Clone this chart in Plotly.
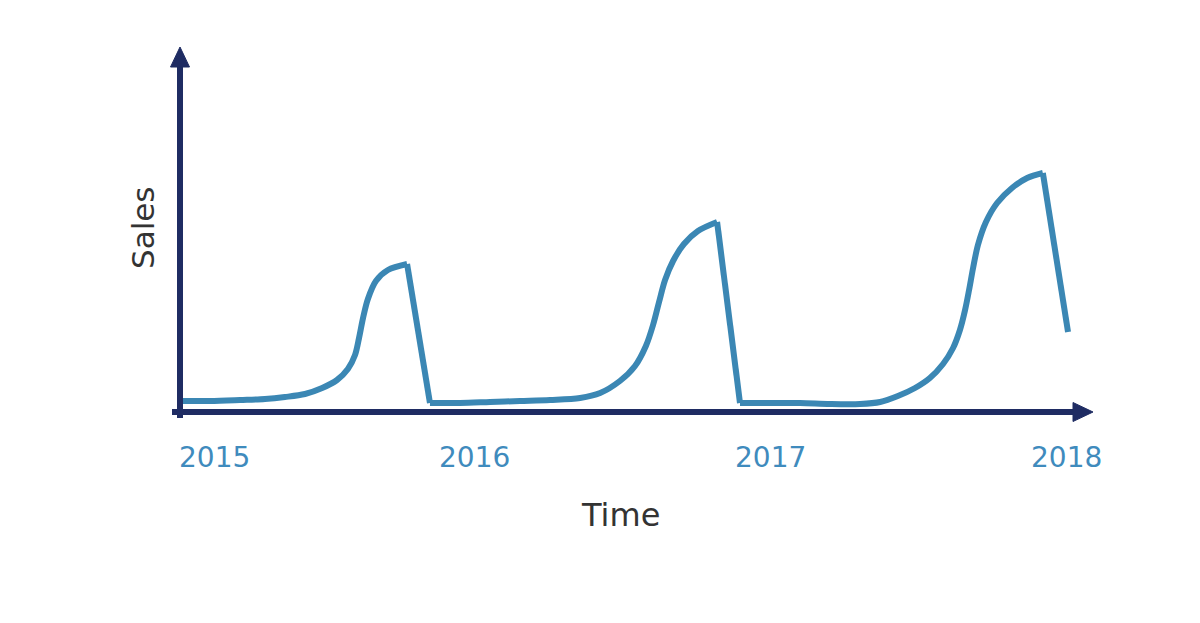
import plotly.graph_objects as go

# ---- data (time in fractional years, sales in arbitrary units) ----
cycle1_time = [2015.010, 2015.105, 2015.210, 2015.297, 2015.367, 2015.437, 2015.497,
               2015.549, 2015.587, 2015.612, 2015.626, 2015.640, 2015.657, 2015.685,
               2015.727, 2015.794]
cycle1_sales = [10, 10, 11, 12, 14, 17, 23, 31, 42, 56, 73, 93, 112, 130, 141, 147]

cycle2_time = [2015.874, 2015.979, 2016.084, 2016.189, 2016.294, 2016.399, 2016.469,
               2016.538, 2016.591, 2016.629, 2016.654, 2016.675, 2016.696, 2016.724,
               2016.762, 2016.811, 2016.878]
cycle2_sales = [8, 8, 9, 10, 11, 13, 18, 30, 45, 65, 86, 109, 131, 150, 167, 180, 189]

cycle3_time = [2016.958, 2017.063, 2017.168, 2017.273, 2017.378, 2017.448, 2017.510,
               2017.570, 2017.622, 2017.668, 2017.703, 2017.727, 2017.745, 2017.759,
               2017.773, 2017.790, 2017.818, 2017.857, 2017.909, 2017.962, 2018.017]
cycle3_sales = [8, 8, 8, 7, 7, 9, 15, 23, 33, 47, 63, 81, 101, 121, 143, 166, 189,
                208, 223, 233, 238]

end_time = [2018.105]
end_sales = [79]

year_labels = ["2015", "2016", "2017", "2018"]
year_label_pos = [2015.122, 2016.028, 2017.066, 2018.098]

LINE = "#3b87b4"
AXIS = "#1f2c63"
YEARC = "#3f8bbd"
TEXTC = "#333333"

# page offset (default body margin) and figure size
OFF = 8
W, H = 1200 - 2 * OFF, 623 - 2 * OFF

# screen pixel -> data helpers for decorations (axes arrows)
PXY = 286.0
def X(px):
    return 2015 + (px - 180) / PXY
def Y(py):
    return 411 - py
def PX(px):
    return (px - OFF) / W
def PY(py):
    return 1 - (py - OFF) / H

fig = go.Figure()

cycles = [(cycle1_time, cycle1_sales), (cycle2_time, cycle2_sales), (cycle3_time, cycle3_sales)]
nexts = [(cycle2_time[0], cycle2_sales[0]), (cycle3_time[0], cycle3_sales[0]), (end_time[0], end_sales[0])]
for (t, s), (nt, ns) in zip(cycles, nexts):
    fig.add_trace(go.Scatter(x=t, y=s, mode="lines",
                             line=dict(color=LINE, width=6, shape="spline", smoothing=0.9),
                             hoverinfo="skip", showlegend=False))
    fig.add_trace(go.Scatter(x=[t[-1], nt], y=[s[-1], ns], mode="lines",
                             line=dict(color=LINE, width=6),
                             hoverinfo="skip", showlegend=False))

shapes = [
    # x axis line
    dict(type="line", xref="x", yref="y", x0=X(172), x1=X(1078), y0=Y(412), y1=Y(412),
         line=dict(color=AXIS, width=6), layer="above"),
    dict(type="path", xref="x", yref="y",
         path=f"M {X(1073)},{Y(402.5)} L {X(1093)},{Y(412)} L {X(1073)},{Y(421.5)} Z",
         fillcolor=AXIS, line=dict(color=AXIS, width=1), layer="above"),
    # y axis line
    dict(type="line", xref="x", yref="y", x0=X(180), x1=X(180), y0=Y(418), y1=Y(64),
         line=dict(color=AXIS, width=6), layer="above"),
    dict(type="path", xref="x", yref="y",
         path=f"M {X(170.5)},{Y(67)} L {X(180)},{Y(47)} L {X(189.5)},{Y(67)} Z",
         fillcolor=AXIS, line=dict(color=AXIS, width=1), layer="above"),
]

annotations = []
for lab, pos in zip(year_labels, year_label_pos):
    annotations.append(dict(x=pos, y=Y(457), xref="x", yref="y", text=lab, showarrow=False,
                            font=dict(family="DejaVu Sans", size=28, color=YEARC),
                            xanchor="center", yanchor="middle"))
annotations.append(dict(x=PX(620), y=PY(515), xref="paper", yref="paper", text="Time",
                        showarrow=False, font=dict(family="DejaVu Sans", size=32, color=TEXTC),
                        xanchor="center", yanchor="middle"))
annotations.append(dict(x=PX(143), y=PY(228), xref="paper", yref="paper", text="Sales",
                        showarrow=False, textangle=-90,
                        font=dict(family="DejaVu Sans", size=31, color=TEXTC),
                        xanchor="center", yanchor="middle"))

fig.update_layout(
    width=W, height=H,
    margin=dict(l=0, r=0, t=0, b=0),
    paper_bgcolor="white", plot_bgcolor="white",
    xaxis=dict(range=[X(OFF), X(OFF + W)], visible=False, fixedrange=True),
    yaxis=dict(range=[Y(OFF + H), Y(OFF)], visible=False, fixedrange=True),
    shapes=shapes, annotations=annotations,
)

fig.write_html("out.html")
